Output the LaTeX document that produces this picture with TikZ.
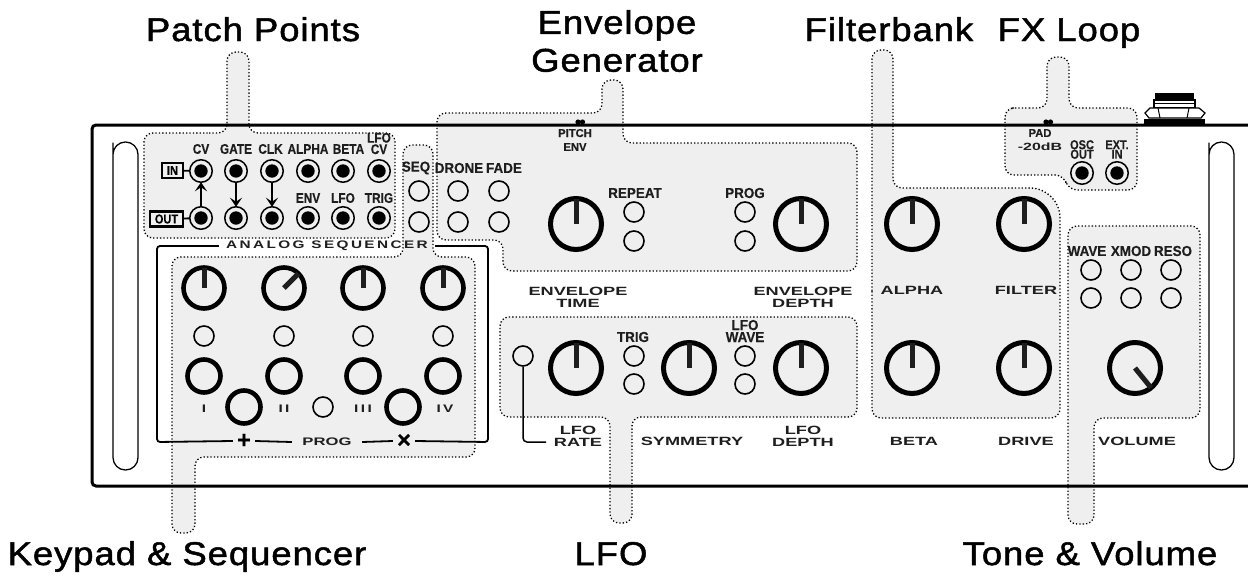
\documentclass[tikz,border=0pt]{standalone}
\usepackage{fontspec}
\usepackage{tikz}
\usetikzlibrary{arrows.meta,shapes}
\newfontfamily\titlefont[FakeStretch=1.11,LetterSpace=2.8,FakeBold=1.5]{Liberation Sans}
\newfontfamily\tightfont[FakeStretch=0.85,FakeBold=0.2]{Liberation Sans Bold}
\newfontfamily\switchfont[FakeStretch=0.93,FakeBold=0.2]{Liberation Sans Bold}
\newfontfamily\plainfont[FakeStretch=0.98,FakeBold=0.2]{Liberation Sans Bold}
\newfontfamily\widefont[FakeStretch=1.52]{Liberation Sans Bold}
\newfontfamily\spacedfont[FakeStretch=1.4,LetterSpace=22]{Liberation Sans Bold}
\definecolor{zonegray}{HTML}{EFEFEF}
\definecolor{inkdark}{HTML}{1E1E1E}
\tikzset{
  zone/.style={fill=zonegray,draw=black,line width=1.3bp,dash pattern=on 1.3bp off 2.1bp,rounded corners=9bp},
  knob/.style={circle,draw=black,line width=5bp,minimum size=51bp,inner sep=0pt,outer sep=0pt},
  seqknob/.style={circle,draw=black,line width=4.6bp,minimum size=41bp,inner sep=0pt,outer sep=0pt},
  stepkey/.style={circle,draw=black,line width=4.6bp,minimum size=33bp,inner sep=0pt,outer sep=0pt},
  led/.style={circle,draw=black,line width=1.6bp,minimum size=20bp,inner sep=0pt},
  jack/.style={circle,draw=black,line width=1.5bp,minimum size=22.5bp,inner sep=0pt,outer sep=0pt,
    path picture={\fill (path picture bounding box.center) circle (6.7bp);}},
  pointer/.style={draw=inkdark,line width=5bp},
  panelline/.style={draw=black,line width=3bp,rounded corners=4bp},
  frameline/.style={draw=black,line width=1.8bp,rounded corners=3bp},
  slot/.style={draw=black,line width=1.3bp,rounded corners=12.4bp},
  sigarrow/.style={draw=black,line width=2bp,-{Stealth[length=9bp,width=12bp,inset=4bp]}},
  heading/.style={font=\titlefont\fontsize{33}{38}\selectfont,align=center,text=black,inner sep=0pt},
  tag/.style={font=\tightfont\fontsize{14}{11.5}\selectfont,align=center,text=inkdark,inner sep=0pt},
  switchtag/.style={font=\switchfont\fontsize{14.5}{12}\selectfont,align=center,text=inkdark,inner sep=0pt},
  closetag/.style={font=\tightfont\fontsize{13}{9.5}\selectfont,align=center,text=inkdark,inner sep=0pt},
  smalltag/.style={font=\plainfont\fontsize{11.5}{14}\selectfont,align=center,text=inkdark,inner sep=0pt},
  widetag/.style={font=\widefont\fontsize{12}{12}\selectfont,align=center,text=inkdark,inner sep=0pt},
  romantag/.style={font=\spacedfont\fontsize{11}{12}\selectfont,text=inkdark,inner sep=0pt},
  signtag/.style={font=\plainfont\fontsize{24}{24}\selectfont,minimum width=22bp,inner sep=0pt,text=black},
  portbox/.style={draw=black,line width=2.4bp,font=\tightfont\fontsize{13}{13}\selectfont,minimum height=15bp,inner sep=0pt,outer sep=0pt}
}
\begin{document}
\begin{tikzpicture}

\useasboundingbox (0bp,0bp) rectangle (1248bp,-577bp);

% grey zones
\draw[zone] (200bp,-133bp) -- (227bp,-133bp) -- (227bp,-52bp) -- (249bp,-52bp) -- (249bp,-133bp) -- (395bp,-133bp) -- (395bp,-238bp) -- (144bp,-238bp) -- (144bp,-133bp) -- cycle;
\draw[zone] (300bp,-257bp) -- (403bp,-257bp) -- (403bp,-145bp) -- (433bp,-145bp) -- (433bp,-257bp) -- (475bp,-257bp) -- (475bp,-457bp) -- (195bp,-457bp) -- (195bp,-533bp) -- (172bp,-533bp) -- (172bp,-257bp) -- cycle;
\draw[zone] (500bp,-113bp) -- (602bp,-113bp) -- (602bp,-80bp) -- (623bp,-80bp) -- (623bp,-143bp) -- (857bp,-143bp) -- (857bp,-271bp) -- (503bp,-271bp) -- (503bp,-240bp) -- (437bp,-240bp) -- (437bp,-113bp) -- cycle;
\draw[zone] (700bp,-317bp) -- (857bp,-317bp) -- (857bp,-417bp) -- (632bp,-417bp) -- (632bp,-523bp) -- (610bp,-523bp) -- (610bp,-417bp) -- (500bp,-417bp) -- (500bp,-317bp) -- cycle;
\draw[zone] (872bp,-300bp) -- (872bp,-50bp) -- (893bp,-50bp) -- (893bp,-188bp) [rounded corners=30bp] -- (1060bp,-188bp) [rounded corners=9bp] -- (1060bp,-418bp) -- (872bp,-418bp) -- cycle;
\draw[zone] (1020bp,-108bp) -- (1047bp,-108bp) -- (1047bp,-57bp) -- (1069bp,-57bp) -- (1069bp,-108bp) -- (1137bp,-108bp) -- (1137bp,-190bp) -- (1068bp,-190bp) -- (1064bp,-175bp) -- (1005bp,-175bp) -- (1005bp,-108bp) -- cycle;
\draw[zone] (1120bp,-226bp) -- (1200bp,-226bp) -- (1200bp,-418bp) -- (1094bp,-418bp) -- (1094bp,-524bp) -- (1068bp,-524bp) -- (1068bp,-226bp) -- cycle;

% panel and rack slots
\draw[panelline] (1250bp,-125bp) -- (92bp,-125bp) -- (92bp,-486bp) -- (1250bp,-486bp);
\draw[slot] (113bp,-155bp) -- (113bp,-142bp) -- (138bp,-142bp) -- (138bp,-470bp) -- (113bp,-470bp) -- cycle;
\draw[slot] (1209bp,-155bp) -- (1209bp,-142bp) -- (1234bp,-142bp) -- (1234bp,-470bp) -- (1209bp,-470bp) -- cycle;

% output jack
\fill[black] (1144bp,-119bp) rectangle (1205bp,-125bp);
\draw[black,line width=1.2bp,fill=white] (1154bp,-100bp) rectangle (1195bp,-108bp);
\draw[black,line width=1bp] (1154bp,-103bp) -- (1195bp,-103bp);
\fill[black] (1155bp,-93bp) rectangle (1194bp,-100bp);
\draw[black,line width=1.2bp,fill=white] (1150bp,-108bp) -- (1199bp,-108bp) -- (1205bp,-113bp) -- (1201bp,-118bp) -- (1149bp,-118bp) -- (1145bp,-113bp) -- cycle;
\draw[black,line width=1bp] (1158bp,-108bp) -- (1160bp,-118bp) (1189bp,-108bp) -- (1187bp,-118bp);

% titles
\node (tpatch) at (253bp,-41bp)[heading,anchor=base] {Patch Points};
\node (tenv) at (617bp,-41bp)[heading] {Envelope\\Generator};
\node (tfilter) at (889bp,-41bp)[heading,anchor=base] {Filterbank};
\node (tfx) at (1069bp,-41bp)[heading,anchor=base] {FX Loop};
\node (tkeys) at (187bp,-565bp)[heading,anchor=base] {Keypad \& Sequencer};
\node (tlfo) at (611bp,-565bp)[heading,anchor=base] {LFO};
\node (ttone) at (1090bp,-565bp)[heading,anchor=base] {Tone \& Volume};

% patch points
\foreach \n/\x in {1/201,2/236,3/272,4/308,5/343,6/379}{
  \node (in\n) at (\x bp,-171bp)[jack] {};
  \node (out\n) at (\x bp,-218bp)[jack] {};
}
\node (incv) at (201bp,-149bp)[tag] {CV};
\node (ingate) at (236bp,-149bp)[tag] {GATE};
\node (inclk) at (270.5bp,-149bp)[tag] {CLK};
\node (inalpha) at (308bp,-149bp)[tag] {ALPHA};
\node (inbeta) at (348.5bp,-149bp)[tag] {BETA};
\node (inlfo) at (379bp,-143.5bp)[tag] {LFO\\CV};
\node (outenv) at (308bp,-198bp)[tag] {ENV};
\node (outlfo) at (343bp,-198bp)[tag] {LFO};
\node (outtrig) at (379bp,-198bp)[tag] {TRIG};
\node (inbox) at (172.5bp,-170.5bp)[portbox,minimum width=21bp] {IN};
\node (outbox) at (166.5bp,-219bp)[portbox,minimum width=33bp] {OUT};
\draw[line width=1.8bp] (inbox) -- (in1);
\draw[line width=1.8bp] (outbox) -- (out1);
\draw[sigarrow] (out1) -- (in1);
\draw[sigarrow] (in2) -- (out2);
\draw[sigarrow] (in3) -- (out3);

% sequencer
\node (seqtitle) at (327bp,-246bp)[romantag,minimum width=216bp] {ANALOG SEQUENCER};
\node (plus) at (244bp,-441bp)[signtag] {+};
\node (prog) at (327bp,-442bp)[widetag,font=\widefont\fontsize{11}{12}\selectfont,minimum width=70bp] {PROG};
\node (times) at (404bp,-441bp)[signtag] {×};
\coordinate (seqnw) at (157bp,-246bp);
\coordinate (seqsw) at (157bp,-442bp);
\coordinate (seqse) at (488bp,-442bp);
\coordinate (seqne) at (488bp,-246bp);
\draw[frameline] (seqtitle.west) -- (seqnw) -- (seqsw) -- (plus.west);
\draw[frameline] (plus.east) -- (prog.west);
\draw[frameline] (prog.east) -- (times.west);
\draw[frameline] (times.east) -- (seqse) -- (seqne) -- (seqtitle.east);
\foreach \n/\x in {1/204,2/284,3/363,4/443}{
  \node (seqknob\n) at (\x bp,-288bp)[seqknob] {};
  \node (seqled\n) at (\x bp,-336bp)[led] {};
  \node (stepkey\n) at (\x bp,-376bp)[stepkey] {};
}
\draw[pointer] (seqknob1.center) -- (seqknob1.north);
\draw[pointer] (seqknob2.center) -- (seqknob2.45);
\draw[pointer] (seqknob3.center) -- (seqknob3.north);
\draw[pointer] (seqknob4.center) -- (seqknob4.north);
\node (plusbtn) at (244bp,-407bp)[stepkey] {};
\node (progled) at (323bp,-407bp)[led] {};
\node (timesbtn) at (403bp,-407bp)[stepkey] {};
\node (romani) at (204bp,-409bp)[romantag] {I};
\node (romanii) at (284bp,-409bp)[romantag] {II};
\node (romaniii) at (363bp,-409bp)[romantag] {III};
\node (romaniv) at (445bp,-409bp)[romantag] {IV};

% sequencer and envelope switches
\node (seqtag) at (416bp,-168bp)[switchtag] {SEQ};
\node (dronetag) at (459bp,-168bp)[switchtag] {DRONE};
\node (fadetag) at (504bp,-168bp)[switchtag] {FADE};
\foreach \n/\x in {seq/419,drone/458,fade/499}{
  \node (\n a) at (\x bp,-191bp)[led] {};
  \node (\n b) at (\x bp,-222bp)[led] {};
}

% envelope
\node (pitchtag) at (575bp,-140bp)[smalltag] {PITCH\\ENV};
\fill[black] (578bp,-122bp) circle (2.6bp) (582.5bp,-122bp) circle (2.6bp);
\node (envtime) at (576bp,-224bp)[knob] {};
\node (envdepth) at (801bp,-224bp)[knob] {};
\draw[pointer] (envtime.center) -- (envtime.north);
\draw[pointer] (envdepth.center) -- (envdepth.north);
\node (repeattag) at (635bp,-193bp)[switchtag] {REPEAT};
\node (progtag) at (745bp,-193bp)[switchtag] {PROG};
\foreach \n/\x in {repeat/634,prog/745}{
  \node (\n a) at (\x bp,-212bp)[led] {};
  \node (\n b) at (\x bp,-241bp)[led] {};
}
\node (envtimetag) at (578bp,-297bp)[widetag] {ENVELOPE\\TIME};
\node (envdepthtag) at (803bp,-297bp)[widetag] {ENVELOPE\\DEPTH};

% lfo
\node (lfoled) at (523bp,-356bp)[led] {};
\node (lforate) at (576bp,-368bp)[knob] {};
\node (lfosym) at (689bp,-368bp)[knob] {};
\node (lfodepth) at (801bp,-368bp)[knob] {};
\draw[pointer] (lforate.center) -- (lforate.north);
\draw[pointer] (lfosym.center) -- (lfosym.north);
\draw[pointer] (lfodepth.center) -- (lfodepth.north);
\node (trigtag) at (633bp,-337bp)[switchtag] {TRIG};
\node (wavetag) at (745bp,-331bp)[switchtag] {LFO\\WAVE};
\foreach \n/\x in {trig/634,wave/745}{
  \node (\n a) at (\x bp,-356bp)[led] {};
  \node (\n b) at (\x bp,-384bp)[led] {};
}
\node (ratetag) at (578bp,-436bp)[widetag] {LFO\\RATE};
\node (symtag) at (692bp,-441bp)[widetag] {SYMMETRY};
\node (depthtag) at (803bp,-436bp)[widetag] {LFO\\DEPTH};
\coordinate (rateend) at (546bp,-442bp);
\draw[line width=1.5bp,rounded corners=4bp] (lfoled) |- (rateend);

% filterbank
\node (alpha) at (912bp,-224bp)[knob] {};
\node (filter) at (1024bp,-224bp)[knob] {};
\node (beta) at (912bp,-368bp)[knob] {};
\node (drive) at (1024bp,-368bp)[knob] {};
\draw[pointer] (alpha.center) -- (alpha.north);
\draw[pointer] (filter.center) -- (filter.north);
\draw[pointer] (beta.center) -- (beta.north);
\draw[pointer] (drive.center) -- (drive.north);
\node (alphatag) at (912bp,-290bp)[widetag] {ALPHA};
\node (filtertag) at (1026bp,-290bp)[widetag] {FILTER};
\node (betatag) at (914bp,-441bp)[widetag] {BETA};
\node (drivetag) at (1026bp,-441bp)[widetag] {DRIVE};

% fx loop
\fill[black] (1046bp,-122bp) circle (2.6bp) (1050.5bp,-122bp) circle (2.6bp);
\node (padtag) at (1040bp,-133bp)[smalltag] {PAD};
\node (dbtag) at (1040bp,-147bp)[widetag,font=\widefont\fontsize{10.5}{12}\selectfont] {-20dB};
\node (osctag) at (1082bp,-149.5bp)[closetag] {OSC\\OUT};
\node (exttag) at (1117bp,-149.5bp)[closetag] {EXT.\\IN};
\node (oscjack) at (1082bp,-173bp)[jack] {};
\node (extjack) at (1117bp,-173bp)[jack] {};

% tone and volume
\node (wavetone) at (1087bp,-251bp)[switchtag] {WAVE};
\node (xmodtone) at (1131bp,-251bp)[switchtag] {XMOD};
\node (resotone) at (1173bp,-251bp)[switchtag] {RESO};
\foreach \n/\x in {wt/1091,xm/1131,rs/1171}{
  \node (\n a) at (\x bp,-270bp)[led] {};
  \node (\n b) at (\x bp,-298bp)[led] {};
}
\node (volume) at (1135bp,-368bp)[knob] {};
\draw[pointer] (volume.center) -- (volume.-51);
\node (voltag) at (1137bp,-441bp)[widetag] {VOLUME};

\end{tikzpicture}
\end{document}
